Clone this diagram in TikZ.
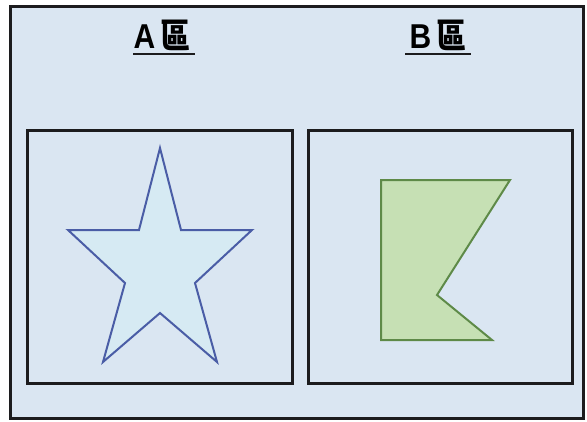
\documentclass[tikz,border=0pt]{standalone}
\usepackage{fontspec}
\setmainfont{Liberation Sans}
\newfontfamily\cjk{Noto Sans CJK TC}
\usepackage{graphicx}
\usepackage{xcolor}
\definecolor{panelbg}{HTML}{DAE6F2}
\definecolor{framedark}{HTML}{1C1C1E}
\definecolor{starfill}{HTML}{D6EAF3}
\definecolor{starline}{HTML}{4A5DA6}
\definecolor{flagfill}{HTML}{C6E0B4}
\definecolor{flagline}{HTML}{5E8A48}
\usetikzlibrary{positioning}

\begin{document}
\begin{tikzpicture}[x=1pt,y=-1pt,
  zone/.style={draw=framedark,line width=3pt},
  title/.style={font=\fontsize{30}{34}\selectfont\bfseries,inner sep=0pt,anchor=base},
  uline/.style={draw=framedark,line width=2.4pt}]
  \useasboundingbox (0,0) rectangle (587,421);
  % outer panel
  \draw[fill=panelbg,draw=framedark,line width=3pt] (10,6) rectangle (583,418);
  % zones
  \draw[zone] (27,130) rectangle (292,383);
  \draw[zone] (308,130) rectangle (572,383);
  % titles
  \node[title] (titleA) at (162,48) {\scalebox{1}[1.15]{A\,\cjk 區}};
  \draw[uline] ([yshift=-6pt]titleA.base west) -- ([yshift=-6pt,xshift=4pt]titleA.base east);
  \node[title] (titleB) at (438,48) {\scalebox{1}[1.15]{B\,\cjk 區}};
  \draw[uline] ([yshift=-6pt,xshift=-4pt]titleB.base west) -- ([yshift=-6pt,xshift=4pt]titleB.base east);
  % star in zone A
  \draw[fill=starfill,draw=starline,line width=2pt,line join=miter]
    (160,148) -- (181,230) -- (252,230) -- (195,283) -- (217,362)
    -- (160,313) -- (103,362) -- (125,283) -- (68,230) -- (139,230) -- cycle;
  % flag in zone B
  \draw[fill=flagfill,draw=flagline,line width=2pt,line join=miter]
    (381,180) -- (510,180) -- (437,295) -- (492,340) -- (381,340) -- cycle;
\end{tikzpicture}
\end{document}
